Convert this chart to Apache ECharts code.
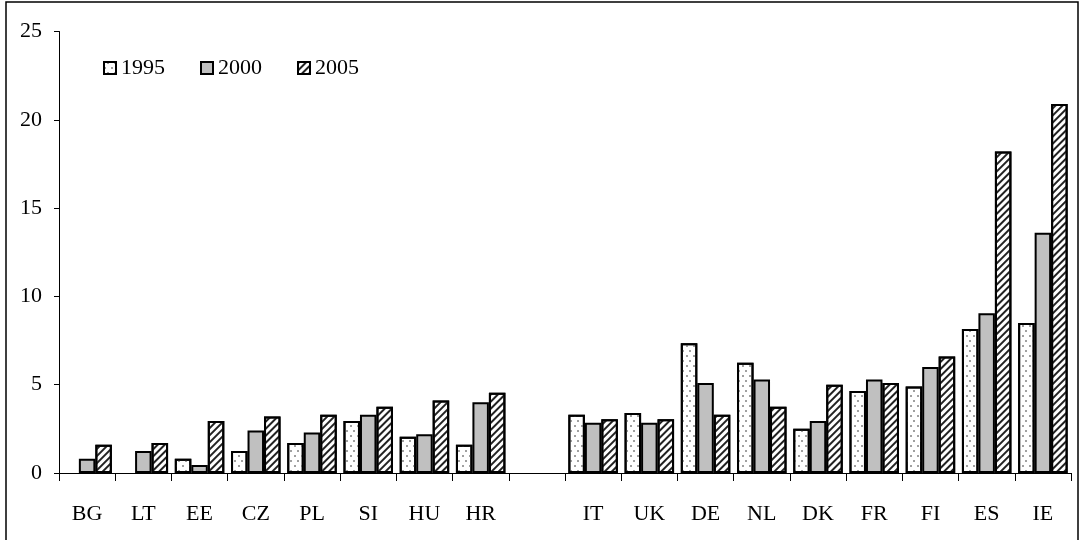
<!DOCTYPE html>
<html>
<head>
<meta charset="utf-8">
<script src="https://cdn.jsdelivr.net/npm/echarts@6/dist/echarts.min.js"></script>
<style>
html,body{margin:0;padding:0;background:#fff;}
#chart{width:1080px;height:540px;}
</style>
</head>
<body>
<div id="chart"></div>
<script>
const categories = ['BG','LT','EE','CZ','PL','SI','HU','HR','','IT','UK','DE','NL','DK','FR','FI','ES','IE'];
const yTicks = [0,5,10,15,20,25];
const seriesNames = ['1995','2000','2005'];
const v1995 = [null,null,0.8,1.25,1.7,2.95,2.05,1.6,null,3.3,3.4,7.35,6.25,2.5,4.65,4.9,8.15,8.5];
const v2000 = [0.8,1.25,0.45,2.4,2.3,3.3,2.2,4.0,null,2.85,2.85,5.1,5.3,2.95,5.3,6.0,9.05,13.6];
const v2005 = [1.6,1.7,2.95,3.2,3.3,3.75,4.1,4.55,null,3.05,3.05,3.3,3.75,5.0,5.1,6.6,18.2,20.9];

const font = "'Liberation Serif', 'Times New Roman', serif";
const border = {borderColor:'#000', borderWidth:2};

const styles = [
  Object.assign({color:'#fff', decal:{symbol:'circle', symbolSize:1, color:'#808080',
    dashArrayX:[[1.6,4.4],[0,3,1.6,1.4]], dashArrayY:[1.6,2.4]}}, border),
  Object.assign({color:'#c0c0c0'}, border),
  Object.assign({color:'#fff', decal:{symbol:'rect', symbolSize:1, color:'#222',
    dashArrayX:[1,0], dashArrayY:[1.7,2.3], rotation:-Math.PI/4}}, border)
];
const values = [v1995, v2000, v2005];

const chart = echarts.init(document.getElementById('chart'), null, {renderer:'canvas'});
chart.setOption({
  animation:false,
  backgroundColor:'#fff',
  graphic:[{type:'rect', shape:{x:6, y:2, width:1072, height:560}, style:{fill:'none', stroke:'#000', lineWidth:1.5}}],
  legend:{
    data:seriesNames, left:103, top:57, padding:0, itemWidth:12, itemHeight:12, itemGap:35,
    textStyle:{fontFamily:font, fontSize:22, color:'#000'},
    icon:'rect'
  },
  grid:{left:59, right:9, top:31.5, bottom:67, containLabel:false},
  xAxis:{
    type:'category', data:categories,
    axisLine:{lineStyle:{color:'#000', width:1}},
    axisTick:{show:true, interval:0, length:8, lineStyle:{color:'#000'}},
    axisLabel:{interval:0, margin:30, fontFamily:font, fontSize:22, color:'#000'}
  },
  yAxis:{
    type:'value', min:yTicks[0], max:yTicks[yTicks.length-1], interval:5,
    axisLine:{show:true, lineStyle:{color:'#000', width:1}},
    axisTick:{show:true, length:5, lineStyle:{color:'#000'}},
    axisLabel:{margin:17, fontFamily:font, fontSize:22, color:'#000'},
    splitLine:{show:false}
  },
  series: seriesNames.map((n,i)=>({
    name:n, type:'bar', data:values[i], barGap:'0%', barCategoryGap:'12%',
    itemStyle:styles[i]
  }))
});
</script>
</body>
</html>
